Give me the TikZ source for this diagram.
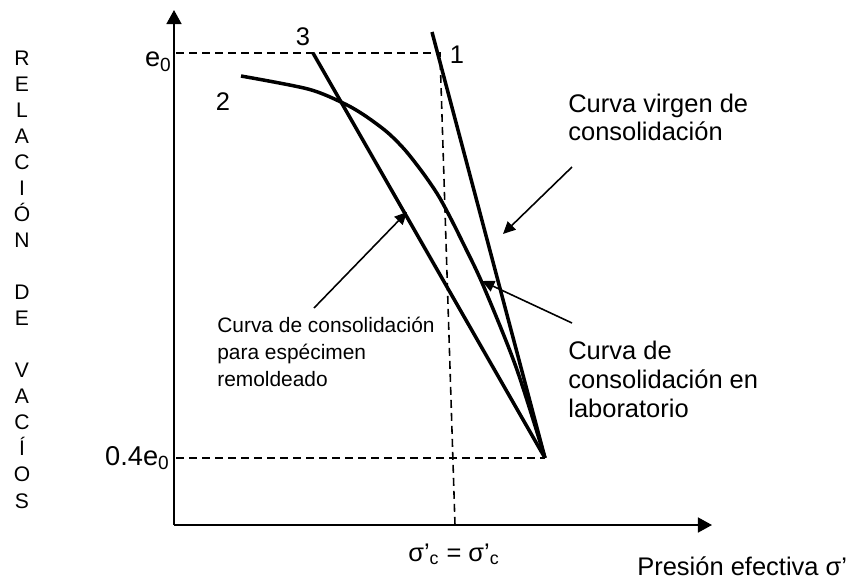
\documentclass[tikz,border=0pt]{standalone}
\usepackage{fontspec}
\setmainfont{Liberation Sans}
\usetikzlibrary{arrows.meta}

\begin{document}
\begin{tikzpicture}[x=0.02cm,y=-0.02cm,
  axis/.style={line width=1.1pt},
  curve/.style={line width=2pt,line join=round},
  guide/.style={line width=0.9pt,dash pattern=on 4.5pt off 2.9pt},
  callout/.style={line width=0.9pt,-{Triangle[length=7pt,width=6.5pt]}},
  big/.style={font=\fontsize{14.5}{16}\selectfont,inner sep=0pt},
  small/.style={font=\fontsize{11.9}{15.4}\selectfont,inner sep=0pt},
  tag/.style={font=\fontsize{12}{14}\selectfont,inner sep=0pt}]
\useasboundingbox (0,0) rectangle (850,579);
% axes
\coordinate (origin) at (174,525);
\coordinate (ytip) at (174,10);
\coordinate (xtip) at (712,525);
\draw[axis,-{Triangle[length=8pt,width=8.5pt]}] (origin) -- (ytip);
\draw[axis,-{Triangle[length=8pt,width=8.5pt]}] (origin) -- (xtip);
% guide lines
\coordinate (e0y) at (176,53);
\coordinate (kink) at (440,53);
\coordinate (sigx) at (455,525);
\coordinate (lowy) at (176,458);
\coordinate (P) at (545,458);
\draw[guide] (e0y) -- (kink) -- (sigx);
\draw[guide] (lowy) -- (P);
% curves 1, 3 and 2
\coordinate (top1) at (432,32);
\coordinate (top3) at (313,53);
\draw[curve] (top1) -- (P);
\draw[curve] (top3) -- (P);
\draw[curve] plot[smooth,tension=0.5] coordinates {(241,76) (308,89) (343,103)
  (364,115) (387,132) (405,150) (423,173) (438,195) (450,217) (463,243)
  (483,285) (516,367) (P)};
% labels
\node[big] (n1) at (457,55) {1};
\node[big] (n2) at (223,102) {2};
\node[big] (n3) at (303,37) {3};
\node[big,anchor=base east,font=\fontsize{15.5}{17}\selectfont] (e0) at (172,66.5) {e\textsubscript{0}};
\node[big,anchor=base east,font=\fontsize{15.5}{17}\selectfont] (e04) at (170,465) {0.4e\textsubscript{0}};
\node[big,anchor=base] (sigc) at (454,561) {σ’\textsubscript{c} = σ’\textsubscript{c}};
\node[big,anchor=base west] (xlabel) at (637,575) {Presión efectiva σ’};
\foreach \ch/\k in {R/0,E/1,L/2,A/3,C/4,I/5,Ó/6,N/7,D/9,E/10,V/12,A/13,C/14,Í/15,O/16,S/17}
  \node[tag,anchor=base] (v\k) at (22,{65+26.06*\k}) {\ch};
% notes
\node[big,align=left,anchor=west] (virgen) at (568,117) {Curva virgen de\\consolidación};
\node[big,align=left,anchor=west,font=\fontsize{14.5}{16.5}\selectfont] (lab) at (568,379) {Curva de\\consolidación en\\laboratorio};
\node[small,align=left,anchor=west] (remold) at (217,352) {Curva de consolidación\\para espécimen\\remoldeado};
\coordinate (c1s) at (572,167);
\coordinate (c1e) at (503,234);
\coordinate (c2s) at (314,308);
\coordinate (c2e) at (407,212);
\coordinate (c3s) at (572,323);
\coordinate (c3e) at (482,281);
\draw[callout] (c1s) -- (c1e);
\draw[callout] (c2s) -- (c2e);
\draw[callout] (c3s) -- (c3e);
\end{tikzpicture}
\end{document}
